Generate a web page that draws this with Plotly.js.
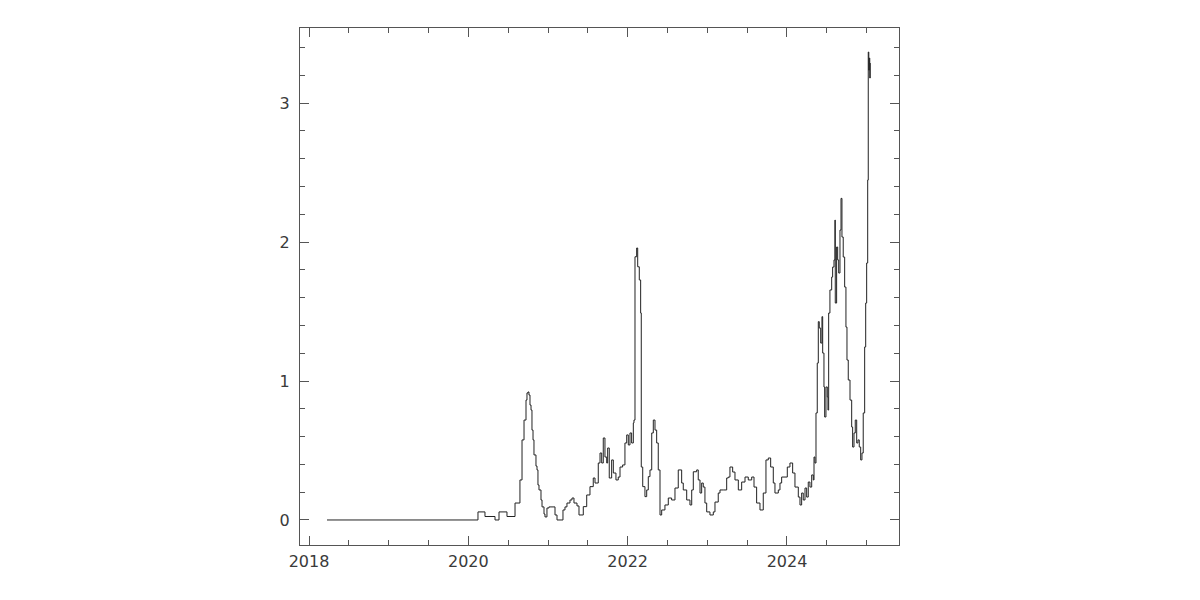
<!DOCTYPE html>
<html>
<head>
<meta charset="utf-8">
<script src="https://cdn.plot.ly/plotly-3.0.1.min.js"></script>
<style>
  html, body { margin: 0; padding: 0; background: #fff; }
  #chart { width: 1200px; height: 600px; }
</style>
</head>
<body>
<div id="chart"></div>
<script>
// Decimal year of each sample
const years = [
  2018.226, 2020.121, 2020.121, 2020.209, 2020.209, 2020.335, 2020.335, 2020.385, 2020.385, 2020.485,
  2020.485, 2020.586, 2020.586, 2020.623, 2020.648, 2020.674, 2020.699, 2020.724, 2020.736, 2020.749,
  2020.761, 2020.774, 2020.787, 2020.799, 2020.812, 2020.824, 2020.849, 2020.862, 2020.874, 2020.887,
  2020.912, 2020.925, 2020.950, 2020.962, 2020.987, 2021.012, 2021.063, 2021.088, 2021.113, 2021.176,
  2021.188, 2021.213, 2021.238, 2021.276, 2021.301, 2021.326, 2021.364, 2021.389, 2021.443, 2021.486,
  2021.527, 2021.568, 2021.590, 2021.631, 2021.653, 2021.674, 2021.694, 2021.715, 2021.737, 2021.749,
  2021.769, 2021.799, 2021.820, 2021.853, 2021.882, 2021.904, 2021.937, 2021.966, 2021.988, 2022.008,
  2022.029, 2022.050, 2022.071, 2022.079, 2022.092, 2022.113, 2022.126, 2022.146, 2022.163, 2022.171,
  2022.189, 2022.217, 2022.239, 2022.259, 2022.280, 2022.302, 2022.322, 2022.343, 2022.364, 2022.384,
  2022.406, 2022.427, 2022.468, 2022.510, 2022.552, 2022.594, 2022.635, 2022.678, 2022.698, 2022.741,
  2022.782, 2022.804, 2022.824, 2022.866, 2022.886, 2022.908, 2022.929, 2022.949, 2022.970, 2022.992,
  2023.033, 2023.075, 2023.096, 2023.137, 2023.159, 2023.200, 2023.243, 2023.263, 2023.284, 2023.318,
  2023.347, 2023.389, 2023.431, 2023.473, 2023.514, 2023.557, 2023.586, 2023.619, 2023.661, 2023.702,
  2023.736, 2023.765, 2023.795, 2023.828, 2023.849, 2023.891, 2023.912, 2023.933, 2023.975, 2024.004,
  2024.037, 2024.071, 2024.100, 2024.142, 2024.163, 2024.184, 2024.204, 2024.226, 2024.247, 2024.267,
  2024.288, 2024.310, 2024.330, 2024.339, 2024.351, 2024.364, 2024.380, 2024.393, 2024.405, 2024.423,
  2024.439, 2024.448, 2024.464, 2024.473, 2024.489, 2024.506, 2024.514, 2024.523, 2024.539, 2024.561,
  2024.573, 2024.590, 2024.602, 2024.606, 2024.623, 2024.636, 2024.649, 2024.665, 2024.678, 2024.690,
  2024.706, 2024.724, 2024.740, 2024.753, 2024.769, 2024.791, 2024.812, 2024.824, 2024.841, 2024.857,
  2024.875, 2024.891, 2024.907, 2024.925, 2024.941, 2024.957, 2024.975, 2024.988, 2025.000, 2025.013,
  2025.020, 2025.027, 2025.033, 2025.039, 2025.045
];
// Series value at each sample
const values = [
  0, 0, 0.058, 0.058, 0.025, 0.025, 0, 0, 0.058, 0.058,
  0.025, 0.025, 0.122, 0.122, 0.288, 0.576, 0.719, 0.863, 0.914, 0.921,
  0.899, 0.827, 0.791, 0.647, 0.576, 0.468, 0.388, 0.360, 0.252, 0.216,
  0.144, 0.094, 0.043, 0.022, 0.086, 0.094, 0.094, 0.036, 0, 0,
  0.072, 0.094, 0.122, 0.144, 0.158, 0.122, 0.101, 0.036, 0.096, 0.180,
  0.240, 0.302, 0.266, 0.410, 0.482, 0.410, 0.590, 0.453, 0.410, 0.518,
  0.302, 0.432, 0.338, 0.288, 0.309, 0.381, 0.396, 0.554, 0.612, 0.540,
  0.626, 0.554, 0.698, 0.719, 1.894, 1.957, 1.822, 1.727, 1.489, 0.381,
  0.240, 0.168, 0.216, 0.312, 0.360, 0.626, 0.719, 0.647, 0.554, 0.360,
  0.036, 0.072, 0.108, 0.158, 0.144, 0.230, 0.360, 0.266, 0.216, 0.144,
  0.108, 0.216, 0.347, 0.360, 0.288, 0.194, 0.266, 0.237, 0.122, 0.058,
  0.036, 0.058, 0.129, 0.194, 0.216, 0.216, 0.302, 0.309, 0.381, 0.345,
  0.288, 0.216, 0.273, 0.309, 0.288, 0.309, 0.237, 0.122, 0.072, 0.194,
  0.432, 0.446, 0.381, 0.266, 0.194, 0.216, 0.266, 0.309, 0.309, 0.381,
  0.410, 0.338, 0.237, 0.165, 0.108, 0.194, 0.144, 0.230, 0.165, 0.273,
  0.237, 0.324, 0.288, 0.453, 0.410, 0.770, 1.129, 1.427, 1.381, 1.273,
  1.463, 1.201, 0.957, 0.741, 0.957, 0.885, 0.791, 1.489, 1.655, 1.748,
  1.820, 1.871, 2.158, 1.561, 1.964, 1.871, 1.777, 2.086, 2.314, 2.036,
  1.892, 1.676, 1.388, 1.151, 1.007, 0.863, 0.669, 0.525, 0.626, 0.719,
  0.554, 0.576, 0.525, 0.432, 0.482, 0.770, 1.245, 1.561, 1.849, 2.446,
  3.367, 3.237, 3.324, 3.180, 3.288
];
const xTickVals = [2018, 2020, 2022, 2024];
const xTickText = ['2018', '2020', '2022', '2024'];
const yTickVals = [0, 1, 2, 3];
const yTickText = ['0', '1', '2', '3'];

const axisCommon = {
  showgrid: false,
  zeroline: false,
  showline: true,
  linecolor: '#555',
  linewidth: 1,
  mirror: 'allticks',
  ticks: 'inside',
  ticklen: 9,
  tickwidth: 1,
  tickcolor: '#555',
  tickfont: { family: 'DejaVu Sans', size: 16, color: '#3a3a3a' },
  tickmode: 'array'
};

const data = [{
  x: years,
  y: values,
  type: 'scatter',
  mode: 'lines',
  line: { color: '#222', width: 1, shape: 'hv' },
  hoverinfo: 'skip'
}];

const layout = {
  width: 1200,
  height: 600,
  margin: { l: 300, r: 301, t: 28, b: 55 },
  paper_bgcolor: '#fff',
  plot_bgcolor: '#fff',
  showlegend: false,
  xaxis: Object.assign({}, axisCommon, {
    range: [2017.887, 2025.406],
    tickvals: xTickVals,
    ticktext: xTickText,
    ticklabelstandoff: 2,
    minor: { dtick: 0.5, tick0: 2018, ticks: 'inside', ticklen: 5, tickcolor: '#555', tickwidth: 1, showgrid: false }
  }),
  yaxis: Object.assign({}, axisCommon, {
    range: [-0.18, 3.54],
    tickvals: yTickVals,
    ticktext: yTickText,
    ticklabelstandoff: 6,
    minor: { dtick: 0.2, tick0: 0, ticks: 'inside', ticklen: 5, tickcolor: '#555', tickwidth: 1, showgrid: false }
  })
};

Plotly.newPlot('chart', data, layout, { displayModeBar: false, staticPlot: true });
</script>
</body>
</html>
